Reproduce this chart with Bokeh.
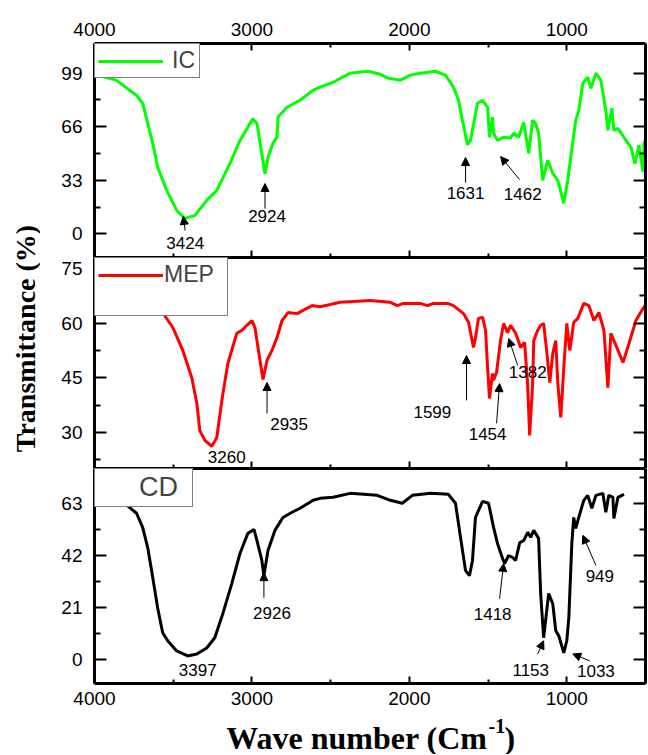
from bokeh.plotting import figure
from bokeh.models import (Range1d, LinearAxis, FixedTicker, Legend, LegendItem, Arrow,
                          NormalHead, ColumnDataSource, Label, Grid)
from bokeh.layouts import row, column
from bokeh.embed import file_html
from bokeh.resources import INLINE
from bokeh.core.properties import value

# ---------------- data ----------------
x_ticks = [4000, 3000, 2000, 1000]
x_minor = [3500, 2500, 1500, 500]

ic_wn = [4000, 3989, 3862, 3734, 3694, 3662, 3630, 3599, 3541, 3478, 3427, 3363, 3287, 3223, 3140,
         3076, 2994, 2968, 2917, 2898, 2866, 2841, 2834, 2777, 2694, 2611, 2567, 2484, 2376, 2268,
         2185, 2140, 2057, 1994, 1930, 1834, 1771, 1720, 1688, 1663, 1631, 1612, 1593, 1567, 1535,
         1503, 1491, 1472, 1465, 1440, 1401, 1357, 1338, 1306, 1274, 1242, 1217, 1198, 1179, 1153,
         1121, 1089, 1057, 1019, 994, 975, 943, 924, 898, 867, 847, 815, 784, 752, 739,
         714, 701, 675, 637, 592, 567, 542, 516, 510, 490]
ic_t = [98.5, 97.8, 94.7, 85.4, 80.5, 68, 55.8, 41, 26.8, 14.4, 9.5, 11.2, 20.6, 26.8, 43.3,
        57.5, 71, 68, 37, 47, 56, 59.5, 72, 78, 82.3, 88.5, 90.4, 93.4, 99, 100.2,
        98.4, 96, 94.7, 97.8, 99, 100.2, 97.8, 90.4, 82.3, 70, 55, 57.6, 67, 80.5, 82.3,
        78, 59.5, 72, 62, 57.6, 59.5, 59, 62, 59.5, 68.7, 49.6, 70, 68, 62, 33,
        45.3, 37.3, 33, 18.8, 33, 47, 70, 76, 92.8, 96.5, 89.7, 99, 94.7, 76, 63.8,
        77.4, 63.8, 65, 59.5, 53.3, 43.3, 54.6, 38.2, 56, 59.5]

mep_wn = [4000, 3800, 3650, 3567, 3503, 3439, 3382, 3350, 3331, 3299, 3255, 3223, 3191, 3153, 3096,
          3064, 3032, 3000, 2981, 2949, 2930, 2904, 2873, 2841, 2809, 2771, 2713, 2675, 2618, 2567,
          2503, 2440, 2249, 2121, 2076, 2038, 1930, 1885, 1847, 1758, 1720, 1656, 1624, 1593, 1580,
          1561, 1535, 1516, 1503, 1491, 1472, 1465, 1446, 1421, 1401, 1376, 1357, 1325, 1293, 1268,
          1249, 1236, 1217, 1210, 1185, 1166, 1147, 1128, 1108, 1089, 1070, 1057, 1038, 1019, 1000,
          981, 956, 930, 892, 860, 828, 796, 764, 739, 720, 688, 643, 605, 561, 516, 490]
mep_t = [74, 70, 66, 62.9, 58.8, 52.5, 45, 38, 30.5, 27.8, 26.2, 28.6, 38.8, 48.9, 57.2,
         58, 59.4, 60.7, 58.8, 49.8, 44.5, 49.8, 52.5, 56, 60.7, 62.9, 62.6, 63.5, 64.8, 64.5,
         65.1, 65.7, 66.2, 65.7, 64.8, 65.4, 65.4, 64.8, 65.4, 65.4, 64.8, 62.6, 60.2, 53.3, 56,
         61.3, 61.6, 58, 47.8, 39.3, 46.2, 44.3, 46.5, 55.2, 59.9, 57.4, 59.4, 57.2, 53.3, 54.7,
         43.4, 29.2, 43.4, 55.2, 58, 59.4, 59.9, 52.5, 43.7, 51.7, 55.2, 43.4, 34.1, 47.8, 59.9,
         52.5, 60.2, 61.3, 65.4, 64.8, 60.7, 62.9, 58, 42.3, 57.2, 53.9, 49.2, 54.4, 60.7, 64, 65.7]

cd_wn = [4000, 3900, 3809, 3733, 3694, 3662, 3630, 3599, 3567, 3535, 3478, 3408, 3350, 3287, 3236,
         3185, 3128, 3076, 3026, 2987, 2968, 2937, 2924, 2898, 2854, 2803, 2745, 2694, 2611, 2567,
         2484, 2376, 2204, 2121, 2045, 1981, 1866, 1752, 1707, 1675, 1643, 1618, 1599, 1580, 1535,
         1497, 1465, 1440, 1408, 1395, 1369, 1344, 1325, 1299, 1274, 1248, 1229, 1210, 1179, 1166,
         1147, 1115, 1089, 1070, 1051, 1019, 1000, 987, 968, 956, 943, 924, 892, 867, 841,
         815, 771, 752, 733, 707, 701, 675, 637]
cd_t = [66, 65.5, 63, 59, 53.3, 45.2, 33.1, 21, 10.9, 7.7, 3.6, 1.6, 2.4, 4.8, 8.9,
        18.6, 30.7, 42.8, 50.9, 52.5, 48, 40, 33.9, 44, 52.1, 57.3, 59.4, 61, 64.2, 65,
        65.4, 67, 66.2, 64.2, 63, 66.2, 67, 66.6, 63, 49.3, 35.9, 33.9, 40, 57.3, 63.8,
        63, 53.3, 46.8, 40.8, 38.8, 42, 41.2, 40, 47.2, 48, 51.3, 49.3, 52.1, 48.9, 26.7,
        8.9, 26.7, 22.6, 11.7, 9.7, 2.8, 7.7, 17, 46.8, 57.3, 52.9, 57.3, 64.2, 66.2, 61,
        66.2, 67, 59.4, 66.2, 65.4, 56.9, 65.4, 66.6]

# peak labels (text position in data units) and arrows (tail -> head)
ic_lab = ["3424", "2924", "1631", "1462"]
ic_lab_x = [3424, 2904, 1643, 1280]
ic_lab_y = [-5.6, 11, 25.4, 24.7]
ic_arr_x0 = [3424, 2917, 1643, 1300]
ic_arr_y0 = [2.0, 15.5, 31.5, 33.4]
ic_arr_x1 = [3436, 2917, 1643, 1420]
ic_arr_y1 = [10.7, 31, 47, 47.6]

mep_lab = ["3260", "2935", "1599", "1454", "1382"]
mep_lab_x = [3160, 2764, 1854, 1503, 1248]
mep_lab_y = [23.2, 32.2, 35.5, 29.7, 46.7]
mep_arr_x0 = [2904, 1637, 1446, 1312]
mep_arr_y0 = [35.2, 38.8, 32.5, 48.4]
mep_arr_x1 = [2904, 1637, 1427, 1369]
mep_arr_y1 = [43.7, 51.1, 43.4, 55.8]

cd_lab = ["3397", "2926", "1418", "1153", "1033", "949"]
cd_lab_x = [3344, 2873, 1471, 1229, 815, 790]
cd_lab_y = [-4, 19, 18.6, -4, -4.4, 33.9]
cd_arr_x0 = [2924, 1427, 1185, 854, 815]
cd_arr_y0 = [25, 24.6, 2.4, -0.4, 38]
cd_arr_x1 = [2924, 1401, 1147, 962, 898]
cd_arr_y1 = [35.1, 38.8, 7.7, 2.4, 50.1]

ic_yticks, ic_yminor, ic_yrange = [0, 33, 66, 99], [16.5, 49.5, 82.5], (-14.6, 117.3)
mep_yticks, mep_yminor, mep_yrange = [30, 45, 60, 75], [22.5, 37.5, 52.5, 67.5], (20.1, 78.0)
cd_yticks, cd_yminor, cd_yrange = [0, 21, 42, 63], [10.5, 31.5, 52.5, 73.5], (-9.5, 77.0)

SANS = "Liberation Sans"
SERIF = "Liberation Serif"


def no_grid(p):
    p.center = [r for r in p.center if not isinstance(r, Grid)]


def style_axis(ax, tick_in, minor_in, labels, standoff):
    ax.axis_line_color = "black"
    ax.axis_line_width = 3
    ax.major_tick_in = tick_in
    ax.major_tick_out = 0
    ax.minor_tick_in = minor_in
    ax.minor_tick_out = 0
    ax.major_tick_line_width = 2
    ax.minor_tick_line_width = 2
    ax.major_tick_line_color = "black" if tick_in else None
    ax.minor_tick_line_color = "black" if minor_in else None
    ax.major_label_text_font = SANS
    if labels:
        ax.major_label_text_color = "black"
        ax.major_label_text_font_size = "19px"
        ax.major_label_standoff = standoff
    else:
        ax.major_label_text_color = None
        ax.major_label_text_font_size = "0px"
        ax.major_label_standoff = 0


def make_panel(height, yr, yticks, yminor, top_mode, bottom_labels, min_top, min_bottom):
    p = figure(width=608, height=height, x_range=Range1d(4000, 500), y_range=Range1d(*yr),
               output_backend="svg", toolbar_location=None,
               x_axis_location=None, y_axis_location=None,
               min_border_left=54, min_border_right=3,
               min_border_top=min_top, min_border_bottom=min_bottom)
    no_grid(p)
    p.outline_line_color = None
    p.background_fill_color = "white"
    p.border_fill_color = "white"
    xt = FixedTicker(ticks=x_ticks, minor_ticks=x_minor)
    top = LinearAxis(ticker=xt)
    if top_mode == "labels":
        style_axis(top, 7, 4, True, 8)
    else:
        style_axis(top, 0, 0, False, 0)
    p.add_layout(top, "above")
    bot = LinearAxis(ticker=xt)
    style_axis(bot, 7, 4, bottom_labels, 8)
    p.add_layout(bot, "below")
    yt = FixedTicker(ticks=yticks, minor_ticks=yminor)
    left = LinearAxis(ticker=yt)
    style_axis(left, 12, 6, True, 12)
    p.add_layout(left, "left")
    right = LinearAxis(ticker=yt)
    style_axis(right, 12, 6, False, 0)
    p.add_layout(right, "right")
    return p


def add_peaks(p, labs, lx, ly, ax0, ay0, ax1, ay1):
    src = ColumnDataSource(dict(x=lx, y=ly, t=labs))
    p.text(x="x", y="y", text="t", source=src, text_font=value(SANS),
           text_font_size=value("17px"), text_align="center", text_baseline="middle",
           text_color="black")
    asrc = ColumnDataSource(dict(x0=ax0, y0=ay0, x1=ax1, y1=ay1))
    p.add_layout(Arrow(end=NormalHead(size=8, fill_color="black", line_color="black", line_width=1),
                       x_start="x0", y_start="y0", x_end="x1", y_end="y1", source=asrc,
                       line_color="black", line_width=1))


def make_legend(items, glyph_w, standoff, font_size, label_w, label_h):
    return Legend(items=items, location="top_left", margin=0, padding=3, spacing=0,
                  glyph_width=glyph_w, glyph_height=20, label_standoff=standoff,
                  label_text_font=SANS, label_text_font_size=font_size,
                  label_width=label_w, label_height=label_h,
                  border_line_color="black", border_line_width=1,
                  background_fill_color="white", background_fill_alpha=1.0)


# ---------------- panel 1 : IC ----------------
p1 = make_panel(257, ic_yrange, ic_yticks, ic_yminor, "labels", False, 43, 0)
r1 = p1.line(ic_wn, ic_t, line_color="#00ff00", line_width=3)
add_peaks(p1, ic_lab, ic_lab_x, ic_lab_y, ic_arr_x0, ic_arr_y0, ic_arr_x1, ic_arr_y1)
p1.add_layout(make_legend([LegendItem(label="IC", renderers=[r1])], 65, 9, "23px", 24, 24))

# ---------------- panel 2 : MEP ----------------
p2 = make_panel(211, mep_yrange, mep_yticks, mep_yminor, "line", False, 0, 0)
r2 = p2.line(mep_wn, mep_t, line_color="#ff0000", line_width=3)
add_peaks(p2, mep_lab, mep_lab_x, mep_lab_y, mep_arr_x0, mep_arr_y0, mep_arr_x1, mep_arr_y1)
blank2 = p2.line([], [], line_alpha=0)
p2.add_layout(make_legend([LegendItem(label="MEP", renderers=[r2]),
                           LegendItem(label=" ", renderers=[blank2])], 65, 1, "23px", 60, 24))

# ---------------- panel 3 : CD ----------------
p3 = make_panel(245, cd_yrange, cd_yticks, cd_yminor, "line", True, 0, 30)
r3 = p3.line(cd_wn, cd_t, line_color="black", line_width=3)
add_peaks(p3, cd_lab, cd_lab_x, cd_lab_y, cd_arr_x0, cd_arr_y0, cd_arr_x1, cd_arr_y1)
blank3 = p3.line([], [], line_alpha=0)
p3.add_layout(make_legend([LegendItem(label="CD", renderers=[blank3])], 35, 6, "27px", 50, 28))

# ---------------- shared axis titles ----------------
ylab = figure(width=40, height=713, x_range=Range1d(0, 40), y_range=Range1d(0, 713),
              output_backend="svg", toolbar_location=None, min_border=0,
              x_axis_location=None, y_axis_location=None)
no_grid(ylab)
ylab.outline_line_color = None
ylab.add_layout(Label(x=25, y=375, text="Transmittance (%)", angle=90, angle_units="deg",
                      text_font=SERIF, text_font_style="bold", text_font_size="28px",
                      text_align="center", text_baseline="middle", text_color="black"))

xlab = figure(width=648, height=41, x_range=Range1d(0, 648), y_range=Range1d(0, 41),
              output_backend="svg", toolbar_location=None, min_border=0,
              x_axis_location=None, y_axis_location=None)
no_grid(xlab)
xlab.outline_line_color = None
xlab.add_layout(Label(x=487, y=17, text="Wave number (Cm", text_font=SERIF, text_font_style="bold",
                      text_font_size="32px", text_align="right", text_baseline="alphabetic",
                      text_color="black"))
xlab.add_layout(Label(x=488, y=29, text="-1", text_font=SERIF, text_font_style="bold",
                      text_font_size="20px", text_align="left", text_baseline="alphabetic",
                      text_color="black"))
xlab.add_layout(Label(x=504, y=17, text=")", text_font=SERIF, text_font_style="bold",
                      text_font_size="32px", text_align="left", text_baseline="alphabetic",
                      text_color="black"))

layout = column(row(ylab, column(p1, p2, p3)), xlab)

open("out.html", "w").write(file_html(layout, INLINE))
